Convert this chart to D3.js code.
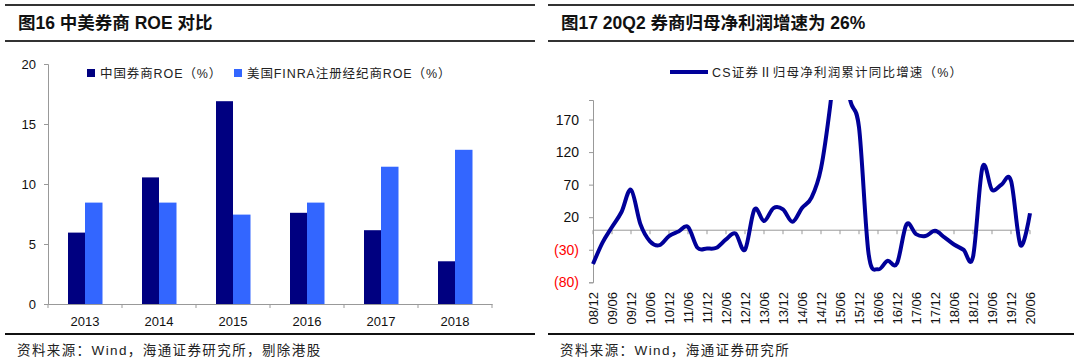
<!DOCTYPE html>
<html><head><meta charset="utf-8">
<script src="https://cdn.jsdelivr.net/npm/d3@7"></script>
<style>
body{margin:0;background:#fff;}
svg{display:block;}
text{font-family:"Liberation Sans","Noto Sans CJK SC",sans-serif;}
</style></head>
<body>
<svg id="c" width="1080" height="363"></svg>
<script>
// Left chart data
const years = ["2013","2014","2015","2016","2017","2018"];
const roeChina = [5.95, 10.55, 16.9, 7.6, 6.15, 3.56];
const roeUS = [8.45, 8.45, 7.45, 8.45, 11.44, 12.85];
const leftTicks = [0, 5, 10, 15, 20];
const leftSeries = ["中国券商ROE（%）", "美国FINRA注册经纪商ROE（%）"];

// Right chart data (quarterly, cumulative YoY %)
const quarters = ["08/12","09/03","09/06","09/09","09/12","10/03","10/06","10/09","10/12",
 "11/03","11/06","11/09","11/12","12/03","12/06","12/09","12/12","13/03","13/06","13/09","13/12",
 "14/03","14/06","14/09","14/12","15/03","15/06","15/09","15/12","16/03","16/06","16/09","16/12",
 "17/03","17/06","17/09","17/12","18/03","18/06","18/09","18/12","19/03","19/06","19/09","19/12",
 "20/03","20/06"];
const growth = [-52, -19, 5, 28, 62, 9, -17, -23, -9,
 -2, 5, -27, -28, -27, -14, -5, -30, 32, 14, 34, 32,
 13, 34, 50, 95, 195, 330, 205, 158, -35, -60, -47, -51,
 9, -6, -9, -1, -11, -22, -30, -41, 97, 62, 70, 76,
 -23, 26];
const rightTicks = [-80, -30, 20, 70, 120, 170];
const rightSeries = "CS证券Ⅱ归母净利润累计同比增速（%）";

const svg = d3.select("#c");

// rules and titles
function frame(x0, x1, title, source){
  svg.append("line").attr("x1",x0).attr("x2",x1).attr("y1",5).attr("y2",5).attr("stroke","#333").attr("stroke-width",2);
  svg.append("line").attr("x1",x0).attr("x2",x1).attr("y1",41).attr("y2",41).attr("stroke","#333").attr("stroke-width",2);
  svg.append("line").attr("x1",x0).attr("x2",x1).attr("y1",334).attr("y2",334).attr("stroke","#111").attr("stroke-width",2);
  svg.append("text").attr("x",x0+13).attr("y",29).attr("font-size",17.5).attr("font-weight","bold").attr("fill","#111").text(title);
  svg.append("text").attr("x",x0+12).attr("y",355).attr("font-size",13.5).attr("letter-spacing",1.4).attr("fill","#222").text(source);
}
frame(5, 535, "图16 中美券商 ROE 对比", "资料来源：Wind，海通证券研究所，剔除港股");
frame(548, 1074, "图17 20Q2 券商归母净利润增速为 26%", "资料来源：Wind，海通证券研究所");

// ---------- Left chart ----------
const lx = d3.scaleBand().domain(years).range([48, 492]);
const ly = d3.scaleLinear().domain([0, 20]).range([304, 64]);
const gL = svg.append("g");
const yAxL = gL.append("g").attr("transform","translate(48,0)")
  .call(d3.axisLeft(ly).tickValues(leftTicks).tickSize(4).tickPadding(8));
yAxL.select(".domain").attr("stroke","#999");
yAxL.selectAll(".tick line").attr("stroke","#999");
yAxL.selectAll("text").attr("font-size",13).attr("fill","#111").style("font-family","Liberation Sans");

const bw = 17;
gL.selectAll("rect.cn").data(years).enter().append("rect")
  .attr("x", d=>lx(d)+lx.bandwidth()/2-bw).attr("width",bw)
  .attr("y",(d,i)=>ly(roeChina[i])).attr("height",(d,i)=>ly(0)-ly(roeChina[i]))
  .attr("fill","#000080");
gL.selectAll("rect.us").data(years).enter().append("rect")
  .attr("x", d=>lx(d)+lx.bandwidth()/2).attr("width",bw+0.5)
  .attr("y",(d,i)=>ly(roeUS[i])).attr("height",(d,i)=>ly(0)-ly(roeUS[i]))
  .attr("fill","#3366FF");

const xAxL = gL.append("g").attr("transform","translate(0,304)")
  .call(d3.axisBottom(lx).tickSize(0).tickPadding(13));
xAxL.select(".domain").attr("stroke","#999");
xAxL.selectAll("text").attr("font-size",13).attr("fill","#111").style("font-family","Liberation Sans");
// boundary ticks
gL.selectAll("line.bt").data(d3.range(years.length+1)).enter().append("line")
  .attr("x1",i=>48+i*lx.step()).attr("x2",i=>48+i*lx.step()).attr("y1",304).attr("y2",308).attr("stroke","#999");

// legend
const legL = [[87,"#000080",leftSeries[0]],[234,"#3366FF",leftSeries[1]]];
legL.forEach(([x,c,t])=>{
  gL.append("rect").attr("x",x).attr("y",69).attr("width",8).attr("height",8).attr("fill",c);
  gL.append("text").attr("x",x+13).attr("y",78).attr("font-size",12.5).attr("letter-spacing",0.9).attr("fill","#222").text(t);
});

// ---------- Right chart ----------
const rx = d3.scalePoint().domain(quarters).range([593, 1030]);
const ry = d3.scaleLinear().domain([-80, 200]).range([282.3, 100]);
const gR = svg.append("g");
const yAxR = gR.append("g").attr("transform","translate(593,0)")
  .call(d3.axisLeft(ry).tickValues(rightTicks).tickSize(4).tickPadding(10)
    .tickFormat(d=> d<0 ? "("+(-d)+")" : d));
yAxR.select(".domain").attr("stroke","#999");
yAxR.selectAll(".tick line").attr("stroke","#999");
yAxR.selectAll("text").attr("font-size",14).style("font-family","Liberation Sans")
  .attr("fill",d=> d<0 ? "#ff0000" : "#111");

// zero line with ticks
const labelQ = quarters.filter((q,i)=>i%2===0);
gR.append("line").attr("x1",593).attr("x2",1030).attr("y1",ry(0)).attr("y2",ry(0)).attr("stroke","#999");
gR.selectAll("line.zt").data(labelQ).enter().append("line")
  .attr("x1",d=>rx(d)).attr("x2",d=>rx(d)).attr("y1",ry(0)).attr("y2",ry(0)+4).attr("stroke","#999");
// category labels at bottom
gR.selectAll("text.xl").data(labelQ).enter().append("text")
  .attr("transform",d=>`translate(${rx(d)+5},292) rotate(-90)`)
  .attr("text-anchor","end").attr("font-size",13).attr("fill","#111")
  .style("font-family","Liberation Sans").text(d=>d);

svg.append("clipPath").attr("id","clipR").append("rect").attr("x",585).attr("y",100).attr("width",460).attr("height",190);
const line = d3.line().x((d,i)=>rx(quarters[i])).y(d=>ry(d)).curve(d3.curveCatmullRom.alpha(0));
gR.append("path").datum(growth).attr("d",line).attr("clip-path","url(#clipR)")
  .attr("fill","none").attr("stroke","#000099").attr("stroke-width",4).attr("stroke-linejoin","round");

// legend
gR.append("line").attr("x1",670).attr("x2",708).attr("y1",72).attr("y2",72).attr("stroke","#000099").attr("stroke-width",4);
gR.append("text").attr("x",712).attr("y",77).attr("font-size",12.5).attr("letter-spacing",1.2).attr("fill","#222").text(rightSeries);
</script>
</body></html>
